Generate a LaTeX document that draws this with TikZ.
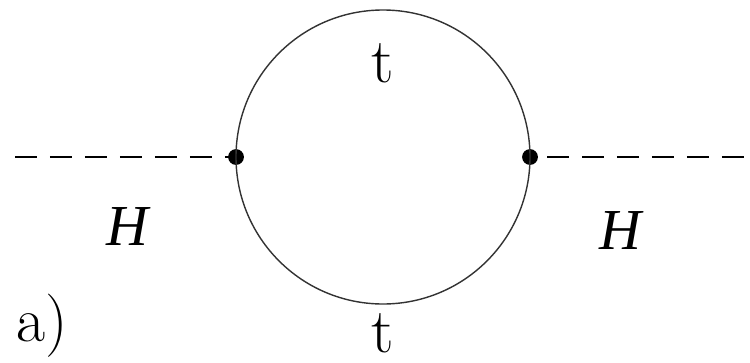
\documentclass[tikz,border=0pt]{standalone}
\usepackage{fontspec}
\newfontfamily\hfont{Liberation Serif}
\begin{document}
\begin{tikzpicture}[x=0.02cm,y=-0.02cm,
  prop/.style={line width=1.5pt,dash pattern=on 12.5pt off 7.4pt},
  loop/.style={line width=0.8pt,draw=black!80},
  vtx/.style={circle,fill=black,inner sep=0pt,minimum size=9pt},
  lbl/.style={font=\fontsize{36}{40}\selectfont,inner sep=0pt},
  hlbl/.style={font=\hfont\itshape\fontsize{33}{36}\selectfont,inner sep=0pt}]
\path[use as bounding box] (0,0) rectangle (750,362);
\node[vtx] (v1) at (236,157) {};
\node[vtx] (v2) at (530,157) {};
\coordinate (l) at (15,157);
\coordinate (r) at (750,157);
\draw[loop] (383,157) circle[radius=147];
\draw[prop] (l) -- (v1);
\draw[prop,dash phase=-5pt] (v2) -- (r);
\node[lbl] (t1) at (383,63) {t};
\node[lbl] (t2) at (383,333) {t};
\node[hlbl] (h1) at (127,227) {H};
\node[hlbl] (h2) at (620,231) {H};
\node[lbl] (a) at (42,326) {a)};
\end{tikzpicture}
\end{document}
